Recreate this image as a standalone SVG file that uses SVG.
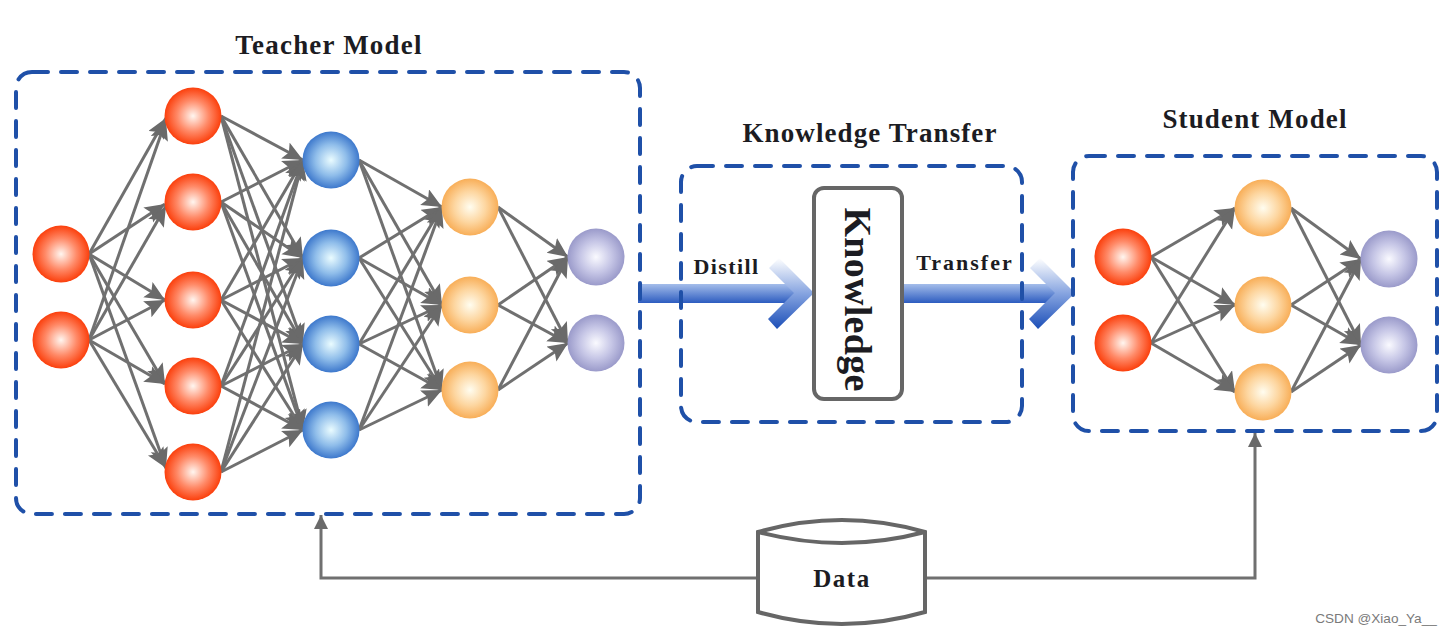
<svg xmlns="http://www.w3.org/2000/svg" width="1453" height="635" viewBox="0 0 1453 635">
<style>
.t{font-family:"Liberation Serif","Times New Roman",serif;font-weight:bold;fill:#1c1c22;text-anchor:middle}
.box{fill:none;stroke:#1f50a8;stroke-width:4;stroke-dasharray:16 13;stroke-linecap:round}
#connectors line{stroke:#707070;stroke-width:3;marker-end:url(#ah)}
.o{stroke:#666;stroke-width:4;fill:none}
.r{fill:url(#gr)}.b{fill:url(#gb)}.y{fill:url(#gy)}.p{fill:url(#gp)}
</style>
<defs>
<marker id="ah" markerUnits="userSpaceOnUse" markerWidth="22" markerHeight="20" refX="20" refY="9" orient="auto"><path d="M0 0L20 9L0 18L4 9Z" fill="#6a6a6a"/></marker>
<marker id="ah2" markerUnits="userSpaceOnUse" markerWidth="16" markerHeight="16" refX="14" refY="7" orient="auto"><path d="M0 0L14 7L0 14Z" fill="#6a6a6a"/></marker>
<radialGradient id="gr"><stop offset="0" stop-color="#fff6f0"/><stop offset=".55" stop-color="#ff8a68"/><stop offset="1" stop-color="#fb3f0c"/></radialGradient>
<radialGradient id="gb"><stop offset="0" stop-color="#eafcff"/><stop offset=".55" stop-color="#8fbdea"/><stop offset="1" stop-color="#3d78cc"/></radialGradient>
<radialGradient id="gy"><stop offset="0" stop-color="#fffdf0"/><stop offset=".55" stop-color="#fdd6a0"/><stop offset="1" stop-color="#f8ae58"/></radialGradient>
<radialGradient id="gp"><stop offset="0" stop-color="#fafaff"/><stop offset=".55" stop-color="#c6c6e6"/><stop offset="1" stop-color="#9a9aca"/></radialGradient>
<linearGradient id="sh" x1="0" y1="0" x2="0" y2="1"><stop offset="0" stop-color="#a4bdea"/><stop offset="1" stop-color="#2d5cc0"/></linearGradient>
<linearGradient id="hd" x1="0" y1="0" x2="0" y2="1"><stop offset="0" stop-color="#ffffff"/><stop offset=".5" stop-color="#86a4e0"/><stop offset="1" stop-color="#1c4fb8"/></linearGradient>
</defs>
<rect width="1453" height="635" fill="#fff"/>
<g id="arrow-distill"><rect x="638" y="284" width="166" height="19" fill="url(#sh)"/><path d="M769 268L779 258L814 293L777 329L768 319L794 293Z" fill="url(#hd)"/></g>
<g id="arrow-transfer"><rect x="902" y="284" width="160" height="19" fill="url(#sh)"/><path d="M1030 268L1040 258L1075 293L1038 329L1029 319L1055 293Z" fill="url(#hd)"/></g>
<g id="teacher-box"><rect class="box" x="16" y="72" width="624" height="442" rx="16"/></g>
<g id="transfer-box"><rect class="box" x="681" y="166" width="341" height="256" rx="16"/></g>
<g id="student-box"><rect class="box" x="1073" y="156" width="364" height="275" rx="16"/></g>
<g id="connectors">
<line x1="89" y1="254" x2="166" y2="118"/><line x1="89" y1="254" x2="165" y2="204"/><line x1="89" y1="254" x2="165" y2="300"/><line x1="89" y1="254" x2="165" y2="384"/><line x1="89" y1="254" x2="166" y2="468"/>
<line x1="89" y1="340" x2="166" y2="120"/><line x1="89" y1="340" x2="166" y2="206"/><line x1="89" y1="340" x2="165" y2="300"/><line x1="89" y1="340" x2="165" y2="384"/><line x1="89" y1="340" x2="166" y2="468"/>
<line x1="221" y1="116" x2="303" y2="160"/><line x1="221" y1="116" x2="303" y2="258"/><line x1="221" y1="116" x2="303" y2="344"/><line x1="221" y1="116" x2="303" y2="430"/>
<line x1="221" y1="202" x2="303" y2="160"/><line x1="221" y1="202" x2="303" y2="258"/><line x1="221" y1="202" x2="303" y2="344"/><line x1="221" y1="202" x2="303" y2="430"/>
<line x1="221" y1="300" x2="303" y2="160"/><line x1="221" y1="300" x2="303" y2="258"/><line x1="221" y1="300" x2="303" y2="344"/><line x1="221" y1="300" x2="303" y2="430"/>
<line x1="221" y1="386" x2="303" y2="160"/><line x1="221" y1="386" x2="303" y2="258"/><line x1="221" y1="386" x2="303" y2="344"/><line x1="221" y1="386" x2="303" y2="430"/>
<line x1="221" y1="472" x2="303" y2="160"/><line x1="221" y1="472" x2="303" y2="258"/><line x1="221" y1="472" x2="303" y2="344"/><line x1="221" y1="472" x2="303" y2="430"/>
<line x1="359" y1="160" x2="442" y2="207"/><line x1="359" y1="160" x2="442" y2="305"/><line x1="359" y1="160" x2="442" y2="390"/>
<line x1="359" y1="258" x2="442" y2="207"/><line x1="359" y1="258" x2="442" y2="305"/><line x1="359" y1="258" x2="442" y2="390"/>
<line x1="359" y1="344" x2="442" y2="207"/><line x1="359" y1="344" x2="442" y2="305"/><line x1="359" y1="344" x2="442" y2="390"/>
<line x1="359" y1="430" x2="442" y2="207"/><line x1="359" y1="430" x2="442" y2="305"/><line x1="359" y1="430" x2="442" y2="390"/>
<line x1="498" y1="207" x2="568" y2="257"/><line x1="498" y1="207" x2="568" y2="343"/>
<line x1="498" y1="305" x2="568" y2="257"/><line x1="498" y1="305" x2="568" y2="343"/>
<line x1="498" y1="390" x2="568" y2="257"/><line x1="498" y1="390" x2="568" y2="343"/>
<line x1="1151" y1="257" x2="1235" y2="208"/><line x1="1151" y1="257" x2="1235" y2="305"/><line x1="1151" y1="257" x2="1235" y2="392"/>
<line x1="1151" y1="343" x2="1235" y2="208"/><line x1="1151" y1="343" x2="1235" y2="305"/><line x1="1151" y1="343" x2="1235" y2="392"/>
<line x1="1291" y1="208" x2="1361" y2="259"/><line x1="1291" y1="208" x2="1361" y2="345"/>
<line x1="1291" y1="305" x2="1361" y2="259"/><line x1="1291" y1="305" x2="1361" y2="345"/>
<line x1="1291" y1="392" x2="1361" y2="259"/><line x1="1291" y1="392" x2="1361" y2="345"/>
<path d="M758 578H321V515" fill="none" stroke="#707070" stroke-width="3" marker-end="url(#ah2)"/>
<path d="M926 578H1255V433" fill="none" stroke="#707070" stroke-width="3" marker-end="url(#ah2)"/>
</g>
<g id="a1"><circle class="r" cx="61" cy="254" r="28.5"/></g>
<g id="a2"><circle class="r" cx="61" cy="340" r="28.5"/></g>
<g id="b1"><circle class="r" cx="193" cy="116" r="28.5"/></g>
<g id="b2"><circle class="r" cx="193" cy="202" r="28.5"/></g>
<g id="b3"><circle class="r" cx="193" cy="300" r="28.5"/></g>
<g id="b4"><circle class="r" cx="193" cy="386" r="28.5"/></g>
<g id="b5"><circle class="r" cx="193" cy="472" r="28.5"/></g>
<g id="c1"><circle class="b" cx="331" cy="160" r="28.5"/></g>
<g id="c2"><circle class="b" cx="331" cy="258" r="28.5"/></g>
<g id="c3"><circle class="b" cx="331" cy="344" r="28.5"/></g>
<g id="c4"><circle class="b" cx="331" cy="430" r="28.5"/></g>
<g id="d1"><circle class="y" cx="470" cy="207" r="28.5"/></g>
<g id="d2"><circle class="y" cx="470" cy="305" r="28.5"/></g>
<g id="d3"><circle class="y" cx="470" cy="390" r="28.5"/></g>
<g id="e1"><circle class="p" cx="596" cy="257" r="28.5"/></g>
<g id="e2"><circle class="p" cx="596" cy="343" r="28.5"/></g>
<g id="s1"><circle class="r" cx="1123" cy="257" r="28.5"/></g>
<g id="s2"><circle class="r" cx="1123" cy="343" r="28.5"/></g>
<g id="s3"><circle class="y" cx="1263" cy="208" r="28.5"/></g>
<g id="s4"><circle class="y" cx="1263" cy="305" r="28.5"/></g>
<g id="s5"><circle class="y" cx="1263" cy="392" r="28.5"/></g>
<g id="s6"><circle class="p" cx="1389" cy="259" r="28.5"/></g>
<g id="s7"><circle class="p" cx="1389" cy="345" r="28.5"/></g>
<g id="knowledge"><rect x="814" y="188" width="88" height="211" rx="10" fill="#fff" stroke="#666" stroke-width="4"/>
<text class="t" font-size="38" letter-spacing=".3" transform="translate(845 299.500) rotate(90)">Knowledge</text></g>
<g id="data"><path class="o" d="M758 532Q842 508 925 532V612Q842 636 758 612Z" style="fill:#fff"/><path class="o" d="M758 532Q842 554 925 532"/>
<text class="t" font-size="25" letter-spacing="1.5" x="842" y="587">Data</text></g>
<text class="t" font-size="27" letter-spacing="1.2" x="329" y="54">Teacher Model</text>
<text class="t" font-size="27" letter-spacing="1.1" x="870" y="142">Knowledge Transfer</text>
<text class="t" font-size="27" letter-spacing="1.15" x="1255" y="128">Student Model</text>
<text class="t" font-size="22" letter-spacing="1.4" x="726.500" y="274">Distill</text>
<text class="t" font-size="22" letter-spacing="2" x="965" y="270">Transfer</text>
<text x="1376" y="623" font-family="'Liberation Sans',Arial,sans-serif" font-size="13.6" fill="#7a7a7a" text-anchor="middle">CSDN @Xiao_Ya__</text>
</svg>
